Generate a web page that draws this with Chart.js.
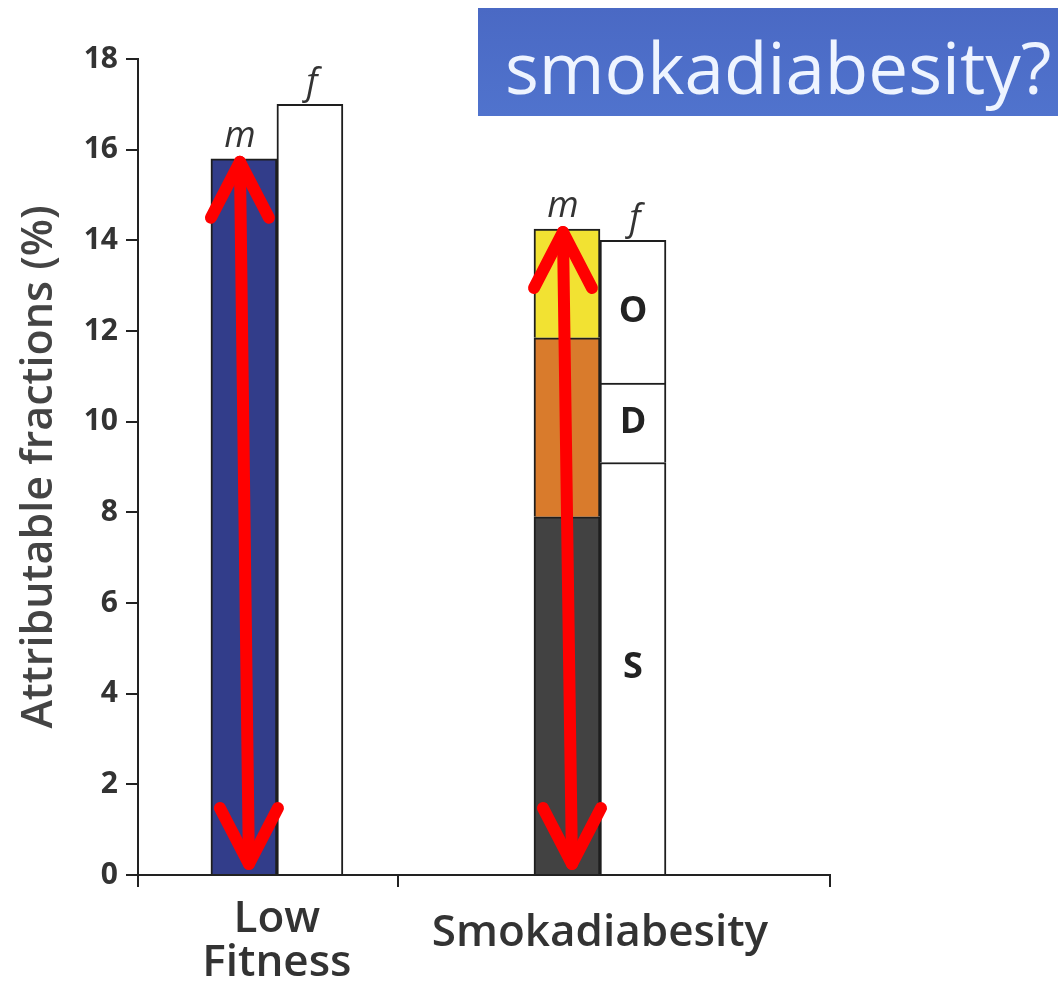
<!DOCTYPE html>
<html>
<head>
<meta charset="utf-8">
<script src="https://cdn.jsdelivr.net/npm/chart.js@4.4.1/dist/chart.umd.min.js"></script>
<style>
html,body{margin:0;padding:0;background:#ffffff;}
#wrap{position:relative;width:1058px;height:981px;overflow:hidden;}
#c{position:absolute;left:0;top:0;}
#title{position:absolute;left:478px;top:8px;width:580px;height:108px;box-sizing:border-box;
  background:linear-gradient(180deg,#4a69c4 0%,#5073cd 100%);
  color:#eef4ff;font-family:"Open Sans",sans-serif;font-size:71px;line-height:108px;
  padding-left:27px;padding-top:5px;white-space:nowrap;}
</style>
</head>
<body>
<div id="wrap">
  <canvas id="c" width="1058" height="981"></canvas>
  <div id="title">smokadiabesity?</div>
</div>
<script>
// ---- data ----
const categories = ['Low Fitness', 'Smokadiabesity'];
const categoryLabels = [['Low', 'Fitness'], 'Smokadiabesity'];
// male (m) stack segments
const maleBase = [15.8, 7.9];     // Low fitness / Smoking (S)
const maleMid  = [null, 3.95];    // Diabetes (D)
const maleTop  = [null, 2.4];     // Obesity (O)
// female (f) stack segments
const femaleBase = [17.0, 9.1];
const femaleMid  = [null, 1.75];
const femaleTop  = [null, 3.15];
const segmentLabels = ['S', 'D', 'O'];
const yTicks = [0, 2, 4, 6, 8, 10, 12, 14, 16, 18];
const xSeparator = 0.375;   // boundary between the two categories (axis units)

const maleColors = {
  base: ['#323d8a', '#424242'],
  mid: '#d97b2c',
  top: '#f2e232'
};

const toPts = arr => arr.map((v, i) => ({ x: i, y: v }));
const common = { barThickness: 66, borderWidth: 2, borderColor: '#1e1e1e', borderSkipped: 'start' };

const datasets = [
  Object.assign({ label: 'm-base', stack: 'm', data: toPts(maleBase), backgroundColor: maleColors.base }, common),
  Object.assign({ label: 'm-mid', stack: 'm', data: toPts(maleMid), backgroundColor: maleColors.mid }, common),
  Object.assign({ label: 'm-top', stack: 'm', data: toPts(maleTop), backgroundColor: maleColors.top }, common),
  Object.assign({ label: 'f-base', stack: 'f', data: toPts(femaleBase), backgroundColor: '#ffffff' }, common),
  Object.assign({ label: 'f-mid', stack: 'f', data: toPts(femaleMid), backgroundColor: '#ffffff' }, common),
  Object.assign({ label: 'f-top', stack: 'f', data: toPts(femaleTop), backgroundColor: '#ffffff' }, common)
];

const sumAt = (series, i) => series.reduce((a, s) => a + (s[i] || 0), 0);

const annot = {
  id: 'annot',
  afterDatasetsDraw(chart) {
    const ctx = chart.ctx;
    const ys = chart.scales.y;
    ctx.save();
    categories.forEach((cat, i) => {
      const mEl = chart.getDatasetMeta(0).data[i];
      const fEl = chart.getDatasetMeta(3).data[i];
      const mTop = ys.getPixelForValue(sumAt([maleBase, maleMid, maleTop], i));
      const fTop = ys.getPixelForValue(sumAt([femaleBase, femaleMid, femaleTop], i));
      // m / f labels
      ctx.fillStyle = '#333333';
      ctx.font = 'italic 36px "Open Sans"';
      ctx.textAlign = 'center';
      ctx.textBaseline = 'alphabetic';
      ctx.fillText('m', mEl.x - 4, mTop - 12);
      ctx.fillText('f', fEl.x + 2, fTop - 10);
      // segment labels in female bar
      if (femaleMid[i] !== null) {
        ctx.font = 'bold 36px "Open Sans"';
        ctx.fillStyle = '#222222';
        ctx.textBaseline = 'middle';
        [3, 4, 5].forEach((d, k) => {
          const el = chart.getDatasetMeta(d).data[i];
          ctx.fillText(segmentLabels[k], el.x, (el.y + el.base) / 2);
        });
      }
    });
    // red double arrows over male bars
    categories.forEach((cat, i) => {
      const mEl = chart.getDatasetMeta(0).data[i];
      const mTop = ys.getPixelForValue(sumAt([maleBase, maleMid, maleTop], i));
      const base = ys.getPixelForValue(0);
      const t = { x: mEl.x - 4, y: mTop + 3 };
      const b = { x: mEl.x + 5, y: base - 11 };
      ctx.strokeStyle = '#ff0000';
      ctx.lineWidth = 12;
      ctx.lineCap = 'round';
      ctx.lineJoin = 'round';
      ctx.beginPath();
      ctx.moveTo(t.x, t.y); ctx.lineTo(b.x, b.y);
      ctx.stroke();
      ctx.beginPath();
      ctx.moveTo(t.x - 29, t.y + 56); ctx.lineTo(t.x, t.y); ctx.lineTo(t.x + 29, t.y + 56);
      ctx.stroke();
      ctx.beginPath();
      ctx.moveTo(b.x - 29, b.y - 56); ctx.lineTo(b.x, b.y); ctx.lineTo(b.x + 29, b.y - 56);
      ctx.stroke();
    });
    ctx.restore();
  }
};

const X_MIN = -0.43, X_MAX = 1.712;

new Chart(document.getElementById('c').getContext('2d'), {
  type: 'bar',
  data: { datasets },
  options: {
    responsive: false,
    animation: false,
    layout: { padding: { top: 59, right: 228, left: 0, bottom: 0 } },
    plugins: { legend: { display: false }, tooltip: { enabled: false } },
    scales: {
      x: {
        type: 'linear',
        stacked: true,
        offset: false,
        min: X_MIN,
        max: X_MAX,
        afterBuildTicks: s => {
          s.ticks = [X_MIN, 0, xSeparator, 1, X_MAX].map(v => ({ value: v }));
        },
        ticks: {
          autoSkip: false,
          maxRotation: 0,
          padding: 11,
          color: '#333333',
          callback: v => (v === 0 ? categoryLabels[0] : v === 1 ? categoryLabels[1] : ''),
          font: ctx => ({
            family: 'Open Sans', size: 44, weight: '600',
            lineHeight: (ctx.tick && ctx.tick.value === 1) ? 1.62 : 0.99
          })
        },
        grid: {
          offset: false,
          drawOnChartArea: false,
          drawTicks: true,
          tickLength: 12,
          lineWidth: 2,
          color: ctx => (ctx.tick && (ctx.tick.value === 0 || ctx.tick.value === 1)) ? 'rgba(0,0,0,0)' : '#222222'
        },
        border: { color: '#222222', width: 2 },
        afterFit: s => { s.height = 106; }
      },
      y: {
        stacked: true,
        min: 0,
        max: 18,
        afterBuildTicks: s => { s.ticks = yTicks.map(v => ({ value: v })); },
        ticks: {
          color: '#333333',
          padding: 8,
          font: { family: 'Open Sans', size: 30, weight: 'bold' }
        },
        grid: { drawOnChartArea: false, drawTicks: true, tickLength: 12, lineWidth: 2, color: '#222222' },
        border: { color: '#222222', width: 2 },
        title: {
          display: true,
          text: 'Attributable fractions (%)',
          color: '#444444',
          font: { family: 'Open Sans', size: 43, weight: '600' },
          padding: { top: 14, bottom: 0 }
        },
        afterFit: s => { s.width = 138; }
      }
    }
  },
  plugins: [annot]
});
</script>
</body>
</html>
